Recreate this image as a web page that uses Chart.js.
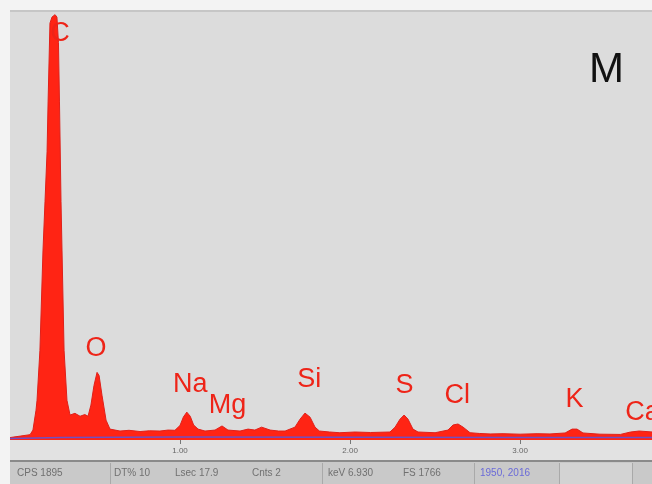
<!DOCTYPE html>
<html><head><meta charset="utf-8">
<script src="https://cdn.jsdelivr.net/npm/chart.js@4"></script>
<style>html,body{margin:0;padding:0;background:#f4f4f4;}#wrap{width:652px;height:484px;position:relative;}</style>
</head><body><div id="wrap"><canvas id="c" width="652" height="484"></canvas></div>
<script>
// Spectrum (keV, counts)
const energies = [0.00,0.06,0.118,0.135,0.153,0.159,0.176,0.194,0.206,0.218,0.224,0.235,0.247,0.265,0.276,0.285,0.291,0.300,0.306,0.318,0.335,0.353,0.382,0.412,0.440,0.459,0.476,0.494,0.512,0.524,0.541,0.565,0.588,0.647,0.70,0.765,0.82,0.882,0.93,0.97,1.0,1.02,1.04,1.06,1.08,1.106,1.147,1.206,1.247,1.282,1.353,1.40,1.44,1.48,1.53,1.58,1.618,1.676,1.706,1.735,1.765,1.794,1.82,1.88,1.94,2.03,2.12,2.235,2.265,2.294,2.318,2.341,2.37,2.4,2.5,2.576,2.606,2.635,2.665,2.706,2.76,2.824,2.9,3.0,3.1,3.176,3.265,3.306,3.335,3.37,3.47,3.59,3.65,3.7,3.78];
const counts   = [10,16,22,41,123,164,370,780,985,1190,1395,1720,1745,1755,1745,1640,1395,985,780,370,164,103,110,98,105,98,144,225,279,266,185,82,45,37,40,35,38,37,41,40,60,95,115,98,62,45,37,41,58,41,37,45,41,53,41,37,37,53,86,111,94,53,37,33,30,33,31,33,53,86,103,86,45,33,30,41,62,66,53,30,27,25,26,24,26,25,29,45,45,29,24,23,33,37,33];
// Background fit line
const bgEnergies = [0.00,0.30,1.00,2.00,3.00,3.78];
const bgCounts   = [6,10,12,11,10,10];
// Tick labels
const tickValues = [1,2,3];
// Element labels
const elemNames  = ["C","O","Na","Mg","Si","S","Cl","K","Ca"];
const elemEnergy = [0.294,0.506,1.06,1.28,1.76,2.32,2.63,3.32,3.72];
const elemCount  = [1648,348,197,111,217,193,152,135,82];
// Status bar
const statusTexts = ["CPS 1895","DT% 10","Lsec 17.9","Cnts 2","keV 6.930","FS 1766","1950, 2016"];

const spec = energies.map((e,i)=>({x:e,y:counts[i]}));
const bg = bgEnergies.map((e,i)=>({x:e,y:bgCounts[i]}));

const decor = {
  id:'decor',
  beforeDraw(chart){
    const {ctx, chartArea:a} = chart;
    ctx.save();
    ctx.fillStyle='#f3f3f3'; ctx.fillRect(0,0,652,484);
    ctx.fillStyle='#dcdcdc'; ctx.fillRect(a.left,a.top,a.right-a.left,a.bottom-a.top);
    ctx.fillStyle='#c6c6c6'; ctx.fillRect(a.left,a.top-2,a.right-a.left,2);
    ctx.fillStyle='#e2e2e2'; ctx.fillRect(a.left,a.bottom,a.right-a.left,20);
    ctx.fillStyle='#8a8a8a'; ctx.fillRect(a.left,a.bottom+20,a.right-a.left,2);
    const sy=a.bottom+22;
    ctx.fillStyle='#c9c9c9'; ctx.fillRect(a.left,sy,a.right-a.left,484-sy);
    ctx.fillStyle='#d3d3d3'; ctx.fillRect(560,sy+1,72,484-sy);
    ctx.fillStyle='#a9a9a9';
    [110,322,474,559,632].forEach(x=>ctx.fillRect(x,sy+1,1,484-sy));
    ctx.font='10px "Liberation Sans", Arial, sans-serif';
    ctx.textBaseline='middle';
    const xs=[17,114,175,252,328,403,480];
    statusTexts.forEach((t,i)=>{
      ctx.fillStyle = i===6 ? '#6a6ad8' : '#707070';
      ctx.fillText(t,xs[i],sy+11);
    });
    ctx.restore();
  },
  afterDatasetsDraw(chart){
    const {ctx, scales:{x,y}} = chart;
    ctx.save();
    ctx.font='27px "Liberation Sans", Arial, sans-serif';
    ctx.fillStyle='#ee2418';
    ctx.textAlign='center';
    ctx.textBaseline='alphabetic';
    elemNames.forEach((n,i)=>{
      ctx.fillText(n, x.getPixelForValue(elemEnergy[i]), y.getPixelForValue(elemCount[i]));
    });
    ctx.font='42px "Liberation Sans", Arial, sans-serif';
    ctx.fillStyle='#111';
    ctx.textAlign='left';
    ctx.fillText('M',589,82);
    ctx.restore();
  }
};

new Chart(document.getElementById('c'),{
  type:'line',
  data:{datasets:[
    {data:bg, borderColor:'rgba(95,85,215,0.9)', borderWidth:1.5, pointRadius:0, fill:false, tension:0, order:0},
    {data:spec, borderColor:'#e0201a', backgroundColor:'#ff2414', borderWidth:1, pointRadius:0, fill:'origin', tension:0, order:1}
  ]},
  options:{
    responsive:false, animation:false, devicePixelRatio:1,
    layout:{padding:{left:10,top:12,right:0,bottom:24}},
    plugins:{legend:{display:false},tooltip:{enabled:false}},
    scales:{
      x:{type:'linear',min:0,max:3.776,
        afterBuildTicks:s=>{s.ticks=tickValues.map(v=>({value:v}));},
        afterFit:s=>{s.height=20;},
        border:{display:false},
        grid:{drawOnChartArea:false,drawTicks:true,tickLength:4,color:'#777'},
        ticks:{padding:2,color:'#666',font:{size:8,family:'"Liberation Sans", Arial'},maxRotation:0,
          callback:v=>v.toFixed(2)}},
      y:{display:false,min:0,max:1766}
    }
  },
  plugins:[decor]
});
</script></body></html>
